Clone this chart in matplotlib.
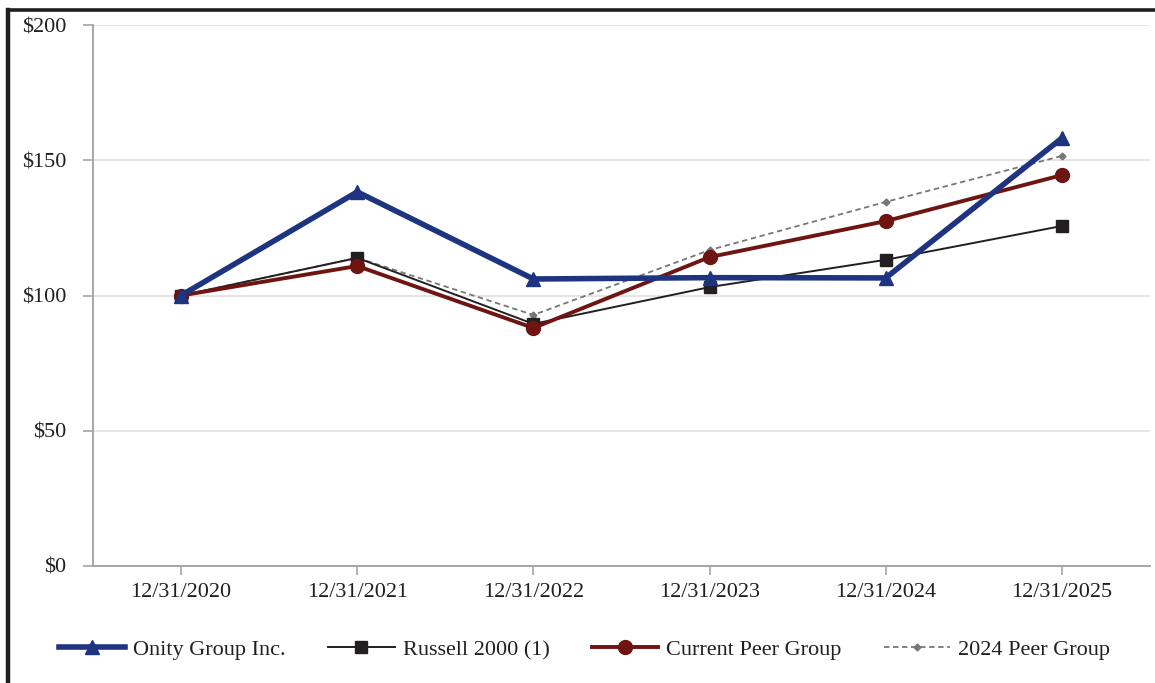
import matplotlib.pyplot as plt
from matplotlib.lines import Line2D
from matplotlib.ticker import FuncFormatter

dates = ["12/31/2020", "12/31/2021", "12/31/2022", "12/31/2023", "12/31/2024", "12/31/2025"]
onity = [100, 138.3, 106.1, 106.6, 106.5, 158.2]
russell = [100, 113.9, 89.5, 103.1, 113.2, 125.7]
current_peer = [100, 110.9, 88.0, 114.2, 127.5, 144.5]
peer_2024 = [100, 113.9, 92.8, 116.8, 134.6, 151.6]
y_ticks = [0, 50, 100, 150, 200]

plt.rcParams["font.family"] = ["Liberation Serif", "DejaVu Serif"]

fig = plt.figure(figsize=(11.55, 6.83), dpi=100)
ax = fig.add_axes([93 / 1155, 1 - 566 / 683, (1150 - 93) / 1155, (566 - 25) / 683])

x = list(range(len(dates)))
ax.plot(x, peer_2024, color="#777777", lw=1.3, ls=(0, (3, 2)), marker="D", ms=3.5,
        label="2024 Peer Group", zorder=3)
ax.plot(x, russell, color="#231f20", lw=1.4, marker="s", ms=8, label="Russell 2000 (1)", zorder=4)
ax.plot(x, current_peer, color="#6e1411", lw=2.8, marker="o", ms=10, label="Current Peer Group", zorder=5)
ax.plot(x, onity, color="#1f3480", lw=4.0, marker="^", ms=10, label="Onity Group Inc.", zorder=6)

ax.set_xlim(-0.5, 5.5)
ax.set_ylim(0, 200)
ax.set_xticks(x)
ax.set_xticklabels(dates)
ax.set_yticks(y_ticks)
ax.yaxis.set_major_formatter(FuncFormatter(lambda v, _: f"${v:.0f}"))
ax.tick_params(axis="both", labelsize=16, colors="#231f20", direction="out", width=1.2,
               color="#a6a6a6")
ax.tick_params(axis="y", length=7, pad=12)
ax.tick_params(axis="x", length=6.5, pad=6)
ax.yaxis.grid(True, color="#e3e3e3", lw=1.3)
ax.set_axisbelow(True)
for side in ["top", "right"]:
    ax.spines[side].set_visible(False)
for side in ["left", "bottom"]:
    ax.spines[side].set_color("#a6a6a6")
    ax.spines[side].set_linewidth(1.4)

handles = [
    Line2D([], [], color="#1f3480", lw=4.0, marker="^", ms=10),
    Line2D([], [], color="#231f20", lw=1.4, marker="s", ms=8),
    Line2D([], [], color="#6e1411", lw=2.8, marker="o", ms=10),
    Line2D([], [], color="#777777", lw=1.3, ls=(0, (3, 2)), marker="D", ms=3.5),
]
labels = ["Onity Group Inc.", "Russell 2000 (1)", "Current Peer Group", "2024 Peer Group"]
fig.legend(handles, labels, loc="center", bbox_to_anchor=(0.506, 1 - 650 / 683), ncol=4,
           frameon=False, fontsize=16, handlelength=3.0, columnspacing=1.9, handletextpad=0.35,
           labelcolor="#231f20")

# black frame around the chart (top and left visible)
fig.add_artist(Line2D([8 / 1155, 8 / 1155], [0, 1 - 10 / 683], color="#231f20", lw=3.2,
                      transform=fig.transFigure))
fig.add_artist(Line2D([8 / 1155, 1], [1 - 10 / 683, 1 - 10 / 683], color="#231f20", lw=2.6,
                      transform=fig.transFigure))

fig.savefig("out.png", dpi=100)
